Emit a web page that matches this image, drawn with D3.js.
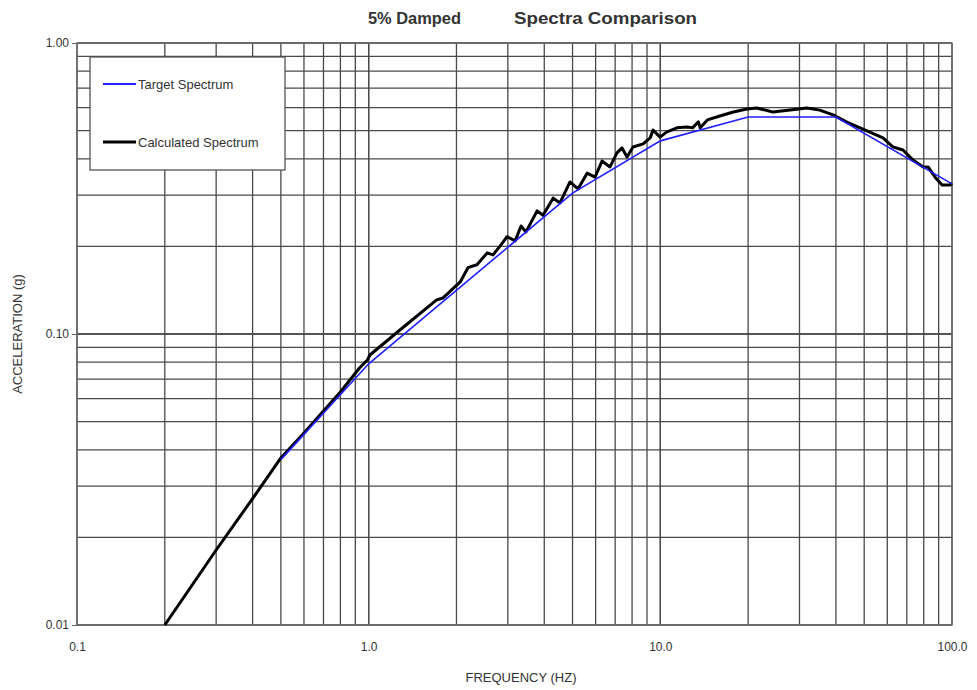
<!DOCTYPE html>
<html>
<head>
<meta charset="utf-8">
<script src="https://cdn.jsdelivr.net/npm/d3@7"></script>
<style>
  body { margin: 0; background: #fff; }
  text { font-family: "Liberation Sans", Arial, sans-serif; fill: #333; }
</style>
</head>
<body>
<svg id="chart"></svg>
<script>
// target spectrum (blue) - frequency Hz, acceleration g
var targetFreq = [0.5, 1.0, 5.0, 10.0, 20.0, 40.0, 100.0];
var targetAcc  = [0.037, 0.079, 0.305, 0.461, 0.557, 0.557, 0.328];

// calculated spectrum (black)
var calcFreq = [0.2, 0.3, 0.4, 0.5, 0.6, 0.8, 0.93, 0.99, 1.01, 1.28, 1.71, 1.8, 2.06, 2.19, 2.35, 2.55, 2.67,
  2.89, 2.98, 3.18, 3.33, 3.46, 3.78, 3.96, 4.29, 4.53, 4.9, 5.22, 5.61, 5.97, 6.31, 6.72, 7.1, 7.39, 7.69,
  8.06, 8.73, 9.23, 9.44, 9.98, 10.5, 11.4, 12.3, 12.9, 13.5, 13.7, 14.5, 16.0, 17.8, 19.8, 21.4, 24.3,
  27.9, 31.8, 35.2, 39.1, 43.6, 48.4, 58.0, 62.8, 67.9, 73.5, 79.6, 82.8, 87.5, 92.5, 98.4, 100.0];
var calcAcc = [0.010, 0.0181, 0.0272, 0.0375, 0.0457, 0.0632, 0.0764, 0.0814, 0.0847, 0.1032, 0.131, 0.133,
  0.151, 0.169, 0.173, 0.190, 0.187, 0.207, 0.216, 0.209, 0.235, 0.224, 0.265, 0.256, 0.293, 0.282, 0.333,
  0.315, 0.357, 0.346, 0.393, 0.375, 0.419, 0.436, 0.406, 0.439, 0.450, 0.472, 0.502, 0.475, 0.494, 0.511,
  0.514, 0.511, 0.536, 0.511, 0.544, 0.561, 0.579, 0.593, 0.598, 0.579, 0.588, 0.598, 0.588, 0.566, 0.535,
  0.511, 0.472, 0.439, 0.429, 0.396, 0.375, 0.375, 0.346, 0.325, 0.325, 0.330];

var xTicks = [0.1, 1, 10, 100];
var xTickLabels = ["0.1", "1.0", "10.0", "100.0"];
var yTicks = [0.01, 0.1, 1];
var yTickLabels = ["0.01", "0.10", "1.00"];

var width = 977, height = 690;
var margin = { left: 77, right: 25, top: 43, bottom: 65 };

var svg = d3.select("#chart").attr("width", width).attr("height", height);

var x = d3.scaleLog().domain([0.1, 100]).range([margin.left, width - margin.right]);
var y = d3.scaleLog().domain([0.01, 1]).range([height - margin.bottom, margin.top]);

// grid lines at 1..9 of every decade
var xGrid = [], yGrid = [];
[0.1, 1, 10].forEach(function(d) { for (var i = 1; i <= 10; i++) xGrid.push(d * i); });
[0.01, 0.1].forEach(function(d) { for (var i = 1; i <= 10; i++) yGrid.push(d * i); });

var grid = svg.append("g").attr("stroke", "#4a4a4a").attr("stroke-width", 1.3);
grid.selectAll(".vx").data(xGrid).enter().append("line")
  .attr("x1", d => x(d)).attr("x2", d => x(d))
  .attr("y1", y(0.01)).attr("y2", y(1));
grid.selectAll(".hy").data(yGrid).enter().append("line")
  .attr("y1", d => y(d)).attr("y2", d => y(d))
  .attr("x1", x(0.1)).attr("x2", x(100));

// border
svg.append("rect")
  .attr("x", x(0.1)).attr("y", y(1))
  .attr("width", x(100) - x(0.1)).attr("height", y(0.01) - y(1))
  .attr("fill", "none").attr("stroke", "#666").attr("stroke-width", 1.3);

// axes
var xAxis = d3.axisBottom(x).tickValues(xTicks).tickFormat((d, i) => xTickLabels[i]).tickSize(0).tickPadding(17);
var yAxis = d3.axisLeft(y).tickValues(yTicks).tickFormat((d, i) => yTickLabels[i]).tickSize(5).tickPadding(3);

var gx = svg.append("g").attr("transform", "translate(0," + y(0.01) + ")").call(xAxis);
var gy = svg.append("g").attr("transform", "translate(" + x(0.1) + ",0)").call(yAxis);
[gx, gy].forEach(function(g) {
  g.select(".domain").remove();
  g.selectAll("line").attr("stroke", "#666");
  g.selectAll("text").attr("font-size", 12).attr("fill", "#444")
    .style("font-family", "'Liberation Sans', Arial, sans-serif");
});

// legend
var lg = svg.append("g");
lg.append("rect").attr("x", 90).attr("y", 57).attr("width", 195).attr("height", 113)
  .attr("fill", "#fff").attr("stroke", "#555").attr("stroke-width", 1.3);
lg.append("line").attr("x1", 103).attr("x2", 136).attr("y1", 84).attr("y2", 84)
  .attr("stroke", "#2020ff").attr("stroke-width", 1.8);
lg.append("text").attr("x", 138).attr("y", 89).attr("font-size", 13).text("Target Spectrum");
lg.append("line").attr("x1", 103).attr("x2", 136).attr("y1", 142).attr("y2", 142)
  .attr("stroke", "#000").attr("stroke-width", 3);
lg.append("text").attr("x", 138).attr("y", 147).attr("font-size", 13).text("Calculated Spectrum");

// series
var line = d3.line().x(d => x(d[0])).y(d => y(d[1]));
var target = targetFreq.map((f, i) => [f, targetAcc[i]]);
var calc = calcFreq.map((f, i) => [f, calcAcc[i]]);

svg.append("path").datum(calc).attr("d", line)
  .attr("fill", "none").attr("stroke", "#000").attr("stroke-width", 3)
  .attr("stroke-linejoin", "round");
svg.append("path").datum(target).attr("d", line)
  .attr("fill", "none").attr("stroke", "#2020ff").attr("stroke-width", 1.6);

// titles
svg.append("text").attr("x", 368).attr("y", 24)
  .attr("font-size", 16).attr("font-weight", "bold").attr("fill", "#111")
  .attr("textLength", 93).attr("lengthAdjust", "spacingAndGlyphs").text("5% Damped");
svg.append("text").attr("x", 514).attr("y", 24)
  .attr("font-size", 16).attr("font-weight", "bold").attr("fill", "#111")
  .attr("textLength", 183).attr("lengthAdjust", "spacingAndGlyphs").text("Spectra Comparison");

svg.append("text").attr("x", 521).attr("y", 682).attr("text-anchor", "middle")
  .attr("font-size", 13).attr("fill", "#444").text("FREQUENCY (HZ)");
svg.append("text").attr("transform", "translate(22," + y(0.1) + ") rotate(-90)")
  .attr("text-anchor", "middle").attr("font-size", 13).attr("fill", "#444").text("ACCELERATION (g)");
</script>
</body>
</html>
